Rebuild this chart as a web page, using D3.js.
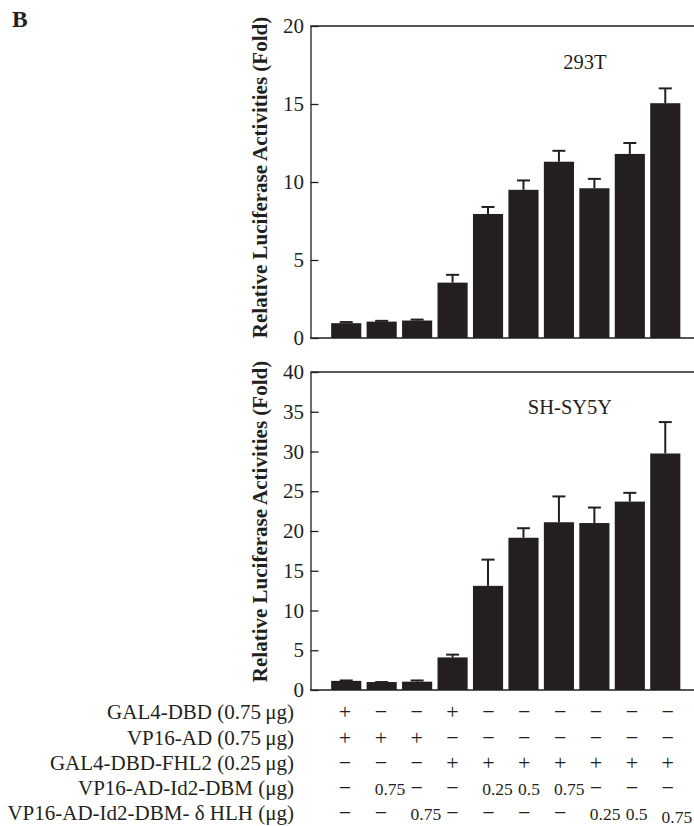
<!DOCTYPE html>
<html>
<head>
<meta charset="utf-8">
<script src="https://cdn.jsdelivr.net/npm/d3@7/dist/d3.min.js"></script>
<style>
  html, body { margin: 0; padding: 0; background: #fff; }
  svg { display: block; }
  text { font-family: "Liberation Serif", "Times New Roman", serif; fill: #231f20; }
</style>
</head>
<body>
<svg id="chart" width="694" height="826"></svg>
<script>
// ---------------- data ----------------
const conditions = ["c1","c2","c3","c4","c5","c6","c7","c8","c9","c10"];

const cellLine293T = "293T";
const values293T = [0.95, 1.05, 1.12, 3.55, 7.95, 9.5, 11.3, 9.6, 11.8, 15.05];
const errors293T = [0.07, 0.05, 0.06, 0.5, 0.45, 0.6, 0.7, 0.6, 0.7, 0.95];
const ticks293T  = [0, 5, 10, 15, 20];

const cellLineSH = "SH-SY5Y";
const valuesSH = [1.15, 1.0, 1.05, 4.1, 13.1, 19.15, 21.1, 21.0, 23.7, 29.75];
const errorsSH = [0.05, 0.0, 0.15, 0.35, 3.3, 1.2, 3.25, 1.95, 1.1, 3.95];
const ticksSH  = [0, 5, 10, 15, 20, 25, 30, 35, 40];

const yTitle = "Relative Luciferase Activities (Fold)";
const panelLabel = "B";

const rowLabels = [
  "GAL4-DBD  (0.75\u2009μg)",
  "VP16-AD (0.75\u2009μg)",
  "GAL4-DBD-FHL2 (0.25\u2009μg)",
  "VP16-AD-Id2-DBM (μg)",
  "VP16-AD-Id2-DBM- δ HLH (μg)"
];
const M = "\u2212";
const rowGal4DBD   = ["+", M, M, "+", M, M, M, M, M, M];
const rowVP16AD    = ["+", "+", "+", M, M, M, M, M, M, M];
const rowGal4FHL2  = [M, M, M, "+", "+", "+", "+", "+", "+", "+"];
const rowId2DBM    = [M, "0.75", M, M, "0.25", "0.5", "0.75", M, M, M];
const rowId2DBMdHLH= [M, M, "0.75", M, M, M, M, "0.25", "0.5", "0.75"];
const tableRows = [rowGal4DBD, rowVP16AD, rowGal4FHL2, rowId2DBM, rowId2DBMdHLH];

// ---------------- layout ----------------
const svg = d3.select("#chart");
const ink = "#231f20";
const axisX = 310.5;
const rightEdge = 694;

const x = d3.scaleBand().domain(conditions).range([328.5, 683])
  .paddingInner(0.15).paddingOuter(0.075);
const xTable = d3.scalePoint().domain(conditions).range([338.8, 661.5]);

svg.append("text").attr("x", 12).attr("y", 27.3)
  .attr("font-size", 23.5).attr("font-weight", "bold").text(panelLabel);

function panel(values, errors, ticks, yRange, label, labelPos, titleY) {
  const y = d3.scaleLinear().domain([ticks[0], ticks[ticks.length - 1]]).range(yRange);
  const g = svg.append("g");

  g.selectAll("rect.bar").data(values).join("rect")
    .attr("class", "bar")
    .attr("x", (d, i) => x(conditions[i]))
    .attr("width", x.bandwidth())
    .attr("y", d => y(d))
    .attr("height", d => y(0) - y(d))
    .attr("fill", ink);

  const eb = g.selectAll("g.err").data(values).join("g").attr("class", "err");
  eb.append("line")
    .attr("x1", (d, i) => x(conditions[i]) + x.bandwidth() / 2)
    .attr("x2", (d, i) => x(conditions[i]) + x.bandwidth() / 2)
    .attr("y1", d => y(d))
    .attr("y2", (d, i) => y(d + errors[i]))
    .attr("stroke", ink).attr("stroke-width", 2);
  eb.append("line")
    .attr("x1", (d, i) => x(conditions[i]) + x.bandwidth() / 2 - 6.5)
    .attr("x2", (d, i) => x(conditions[i]) + x.bandwidth() / 2 + 6.5)
    .attr("y1", (d, i) => y(d + errors[i]))
    .attr("y2", (d, i) => y(d + errors[i]))
    .attr("stroke", ink).attr("stroke-width", 2);

  const ax = g.append("g").attr("transform", `translate(${axisX},0)`)
    .call(d3.axisLeft(y).tickValues(ticks).tickSize(-8).tickSizeOuter(0).tickPadding(6.5));
  ax.selectAll("path.domain").attr("stroke", ink).attr("stroke-width", 1.3);
  ax.selectAll(".tick line").attr("stroke", ink).attr("stroke-width", 1.3);
  ax.selectAll(".tick text")
    .attr("font-family", '"Liberation Serif", "Times New Roman", serif')
    .attr("font-size", 21).attr("fill", ink);

  [ticks[0], ticks[ticks.length - 1]].forEach(v => {
    g.append("line").attr("x1", axisX).attr("x2", rightEdge)
      .attr("y1", y(v)).attr("y2", y(v))
      .attr("stroke", ink).attr("stroke-width", 1.3);
  });

  g.append("text").attr("x", labelPos[0]).attr("y", labelPos[1])
    .attr("text-anchor", "middle").attr("font-size", 20.5).text(label);

  g.append("text")
    .attr("transform", `translate(266.5,${titleY}) rotate(-90)`)
    .attr("text-anchor", "middle").attr("font-size", 21).attr("font-weight", "bold")
    .text(yTitle);
}

panel(values293T, errors293T, ticks293T, [338, 26], cellLine293T, [585, 69], 177.5);
panel(valuesSH, errorsSH, ticksSH, [690, 372], cellLineSH, [570, 414], 521.5);

// ---------------- table ----------------
const rowBaselines = [719, 745, 770, 795, 820];
const tbl = svg.append("g");
tbl.selectAll("text.rowlabel").data(rowLabels).join("text")
  .attr("class", "rowlabel")
  .attr("x", 294).attr("y", (d, i) => rowBaselines[i])
  .attr("text-anchor", "end").attr("font-size", 21).text(d => d);

tableRows.forEach((row, r) => {
  tbl.selectAll(null).data(row).join("text")
    .attr("x", (d, i) => xTable(conditions[i]))
    .attr("y", (d, i) => rowBaselines[r] + (r === 4 && i === 9 ? 2.5 : 0))
    .attr("font-size", d => (d === "+" || d === M) ? 22 : 17.5)
    .text(d => d);
});
</script>
</body>
</html>
